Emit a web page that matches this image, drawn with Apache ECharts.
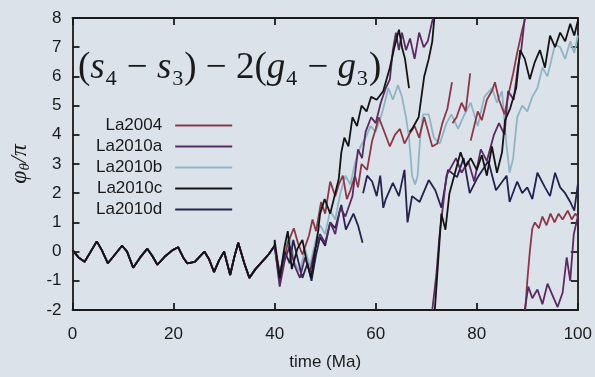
<!DOCTYPE html>
<html>
<head>
<meta charset="utf-8">
<script src="https://cdn.jsdelivr.net/npm/echarts@6/dist/echarts.min.js"></script>
<style>
  html, body { margin: 0; padding: 0; background: #dce2ea; }
  #chart { width: 595px; height: 377px; }
</style>
</head>
<body>
<div id="chart"></div>
<script>
// time (Ma), phi_theta / pi  -- common part, all solutions agree before ~40 Ma
const common = [
  [0, 0.05], [1.2, -0.2], [2.4, -0.35], [3.6, 0], [4.8, 0.35], [5.8, 0.05], [7, -0.4], [8.4, -0.1],
  [9.8, 0.2], [10.8, 0], [12, -0.55], [13.4, -0.2], [14.8, 0.1], [15.8, -0.15], [16.8, -0.45],
  [18.4, -0.15], [19.8, 0.05], [20.9, 0.15], [21.9, -0.2], [22.7, -0.4], [24.2, -0.35], [26.1, 0],
  [27, -0.25], [28, -0.7], [29, -0.3], [30, 0], [31.2, -0.8], [32, -0.2], [32.8, 0.3], [34, -0.4],
  [35, -0.9], [36.2, -0.6], [37.5, -0.35], [38.8, -0.1], [40, 0.2]
]

const la2004 = [
  [41, -0.7], [42, -0.2], [42.6, 0.3], [43.8, 0.8], [44.6, 0.3], [45.5, -0.1], [46.8, 0.55], [47.5, 1.1],
  [48.2, 0.7], [49.2, 1.7], [50, 1.3], [51, 2.4], [52, 1.9], [52.7, 2.3], [53.5, 2.6], [54.3, 1.8],
  [55, 2.1], [55.9, 2.6], [56.5, 2.2], [57.2, 3.0], [58.3, 2.8], [59.3, 3.8], [60, 4.2], [60.6, 4.6],
  [61.5, 4.2], [62.8, 3.6], [63.8, 4.0], [64.8, 4.2], [65.7, 3.7], [66.6, 4.0], [67.7, 4.3], [68.6, 3.9],
  [69.6, 4.6], [70.4, 4.1], [71.2, 3.6], [72.2, 3.7], [73.2, 4.4], [74.2, 4.9], [75.1, 5.8], null,
  [75.2, 4.4], [76, 4.6], [77, 5.1], [77.8, 4.8], [78.7, 6.1], null,
  [78.8, 3.8], [79.5, 4.3], [80.2, 4.8], [81, 4.5], [82, 5.2], [83, 5.5], [83.6, 5.8], [84.4, 5.2],
  [85.5, 4.7], [86.3, 5.4], [87.2, 6.1], [88, 6.8], [89, 7.6], [89.6, 8], null,
  [89.6, -2], [90, -1], [90.5, 0], [91, 0.8], [91.5, 1.0], [92.3, 0.8], [93, 1.2], [93.8, 0.9],
  [94.6, 1.3], [95.4, 1.0], [96.2, 1.3], [97, 1.1], [98, 1.4], [98.8, 1.1], [99.5, 1.3], [100, 1.2]
]

const la2010a = [
  [41, -1.2], [42, -0.3], [43, 0.2], [44, -0.5], [45, -0.9], [46, -0.2], [47, -0.7], [48, 0.1],
  [49, 0.6], [50, 0.3], [51, 1.0], [52, 0.6], [53, 1.5], [54, 1.2], [55, 1.7], [55.4, 1.9],
  [56.5, 3.5], [57.3, 3.2], [58, 4.1], [59.1, 4.6], [60, 4.4], [61, 5.1], [62, 5.6], [62.8, 5.9],
  [63.4, 6.9], [64, 7.5], [64.6, 6.9], [65.2, 7.5], [66, 6.9], [66.8, 7.3], [67.7, 6.6], [68.6, 7.5],
  [69.5, 7.0], [70.3, 7.2], [71.2, 7.9], [71.4, 8], null,
  [71.2, -2], [72, -0.8], [72.6, 0.5], [73.2, 1.4], [74, 2.6], [75.9, 3.2], [77, 2.7], [78.3, 3.1],
  [79.5, 2.4], [80.8, 3.5], [82, 3.1], [83.4, 4.0], [84.4, 4.4], [85.5, 4.0], [86.2, 5.5], [87.3, 5.2],
  [88.2, 6.4], [88.8, 6.9], [89.5, 8], null,
  [89.5, -2], [90.2, -1.2], [91, -1.6], [92, -1.3], [93, -1.8], [94, -1.1], [95, -1.5], [96, -1.9],
  [97, -1.4], [97.8, -0.2], [98.5, -1.0], [99.2, 0.6], [100, 1.2]
]

const la2010b = [
  [41, -0.8], [42, 0.1], [43, 0.5], [44, -0.4], [45, -0.7], [46, 0.1], [47, -0.5], [48, 0.3],
  [49, 0.9], [50, 0.6], [51, 1.4], [52, 1.1], [53, 2.0], [54, 2.6], [55, 2.3], [56, 3.1], [57, 3.6],
  [58, 3.9], [59, 4.3], [60, 4.1], [61, 4.6], [61.5, 4.9], [62.5, 5.6], [63.4, 5.2], [64.4, 5.7],
  [65.2, 5.3], [66, 4.6], [66.6, 3.9], [67.2, 2.6], [67.8, 2.3], [68.3, 2.6], [68.8, 3.9], [69.4, 4.7],
  [70.5, 4.7], [71.5, 3.9], [72.7, 3.7], [74, 4.4], [75, 4.7], [76.3, 4.2], [77.3, 4.6], [78.8, 5.1],
  [80.2, 4.3], [81.5, 5.3], [83, 5.6], [84, 5.1], [85, 5.5], [85.8, 3.8], [86.5, 2.7], [87.2, 3.2],
  [88, 4.6], [89, 5.0], [90, 4.8], [91, 5.3], [92, 5.6], [93, 6.3], [94, 6.0], [95.5, 7.1], [96.5, 7.0],
  [97.5, 6.6], [98.5, 7.2], [99.3, 6.8], [100, 7.4]
]

const la2010c = [
  [40, 0.4], [41, -0.9], [42, 0.2], [42.6, 0.7], [43.4, -0.6], [44.5, 0.1], [45.5, 0.4], [46.4, -0.4],
  [47.2, -0.9], [48, 0], [48.6, 0.7], [49, 1.3], [49.9, 1.8], [51, 1.3], [52, 2.0], [52.7, 2.5],
  [53.2, 3.4], [53.8, 3.9], [54.6, 3.6], [55.4, 4.6], [56.3, 4.3], [57.2, 5.0], [58.2, 4.8], [59.1, 5.3],
  [60.2, 5.2], [61.5, 5.5], [62.8, 6.3], [63.7, 7.0], [64.6, 7.6], [65.2, 7.0], [65.8, 6.6], [66.6, 5.6], null,
  [66.7, 4.1], [67.2, 4.2], [68.5, 4.6], [69.6, 6.0], [70.5, 6.6], [71.2, 7.2], [71.6, 8], null,
  [71.7, -2], [72.3, -0.5], [73, 1.3], [73.8, 0.75], [74.6, 2.0], [75.7, 2.7], [76.8, 3.4], [77.8, 2.9],
  [78.8, 3.2], [80, 2.8], [81, 3.3], [82, 2.6], [83, 3.6], [84, 2.7], [85, 3.4], [85.6, 4.5], [86.6, 4.9],
  [87.8, 5.6], [88.6, 6.9], [89.5, 6.6], [90.5, 5.9], [91.5, 6.5], [92.5, 6.9], [93.5, 6.3], [94.5, 7.4],
  [95.5, 7.0], [96.5, 7.5], [97.5, 7.2], [98.5, 7.8], [99.3, 7.4], [100, 7.9]
]

const la2010d = [
  [41, -1.0], [42, 0], [43, -0.4], [43.7, 0.4], [44.5, -0.2], [45.5, -0.9], [46.5, -0.4], [47.3, -1.0],
  [48.2, -0.1], [49, 0.5], [50, 0.2], [51, 1.0], [52, 0.8], [53.2, 1.6], [54.1, 0.75], [55.6, 1.3],
  [56.5, 0.9], [57.4, 0.3], null,
  [57.5, 2.0], [58.3, 2.6], [59.3, 2.4], [60.2, 1.9], [60.9, 2.6], [61.5, 1.5], [62, 1.8], [63.4, 2.35],
  [64.6, 1.9], [65.7, 2.8], [66.3, 1.0], [67.2, 1.9], [68.7, 1.7], [70.5, 2.45], [71.8, 2.1], [73, 1.5],
  [74.3, 2.8], [76.1, 2.55], [77.4, 3.2], [78.6, 2.0], [80.2, 2.55], [82.3, 3.1], [83.8, 2.1], [85.9, 2.6],
  [86.5, 1.7], [88, 2.4], [89, 2.0], [90, 2.2], [91, 1.8], [92, 2.7], [93.5, 2.2], [94.5, 1.9], [95.5, 2.7],
  [96.5, 2.2], [97.5, 2.0], [98.5, 1.7], [99.3, 1.4], [100, 2.3]
]

const names = ['La2004', 'La2010a', 'La2010b', 'La2010c', 'La2010d']
const colors = {
  La2004: '#8a3848',
  La2010a: '#5a2a62',
  La2010b: '#8fb4c4',
  La2010c: '#141414',
  La2010d: '#26224f',
}
const tails = { La2004: la2004, La2010a: la2010a, La2010b: la2010b, La2010c: la2010c, La2010d: la2010d }
// drawing order, back to front
const drawOrder = ['La2010b', 'La2004', 'La2010d', 'La2010a', 'La2010c']

const axisText = { color: '#1a1a1a', fontSize: 17, fontFamily: 'Liberation Sans' }
const frameLine = { color: '#1a1a1a', width: 1.8 }

function getSeries() {
  return drawOrder.map((name) => ({
    name: name,
    type: 'line',
    symbol: 'none',
    connectNulls: false,
    data: common.concat(tails[name]),
    lineStyle: { color: colors[name], width: 1.8 },
    itemStyle: { color: colors[name] },
    z: 2,
  }))
}

let myChart = echarts.init(document.getElementById('chart'))
let option = {
  backgroundColor: '#dce2ea',
  animation: false,
  title: {
    text: '({i|s}₄ − {i|s}₃) − 2({i|g}₄ − {i|g}₃)',
    left: 78,
    top: 50,
    padding: 0,
    textStyle: {
      fontFamily: 'Liberation Serif',
      fontSize: 37,
      fontWeight: 'normal',
      color: '#1a1a1a',
      rich: {
        i: { fontFamily: 'Liberation Serif', fontStyle: 'italic', fontSize: 37, color: '#1a1a1a' },
      },
    },
  },
  legend: {
    orient: 'vertical',
    align: 'right',
    left: 96,
    top: 115,
    padding: 0,
    icon: 'rect',
    itemWidth: 57,
    itemHeight: 2,
    itemGap: 0,
    data: names,
    textStyle: {
      color: '#1a1a1a',
      fontSize: 17,
      lineHeight: 21,
      fontFamily: 'Liberation Sans',
      padding: [0, 8, 0, 0],
    },
  },
  grid: { left: 68, right: 12, top: 18, bottom: 67 },
  xAxis: [
    {
      type: 'value',
      min: 0,
      max: 100,
      interval: 20,
      name: 'time (Ma)',
      nameLocation: 'middle',
      nameGap: 44,
      nameTextStyle: axisText,
      axisLine: { onZero: false, lineStyle: frameLine },
      axisTick: { inside: true, length: 7, lineStyle: frameLine },
      axisLabel: Object.assign({ margin: 16 }, axisText),
      splitLine: { show: false },
    },
    {
      type: 'value',
      position: 'top',
      min: 0,
      max: 100,
      interval: 20,
      axisLine: { onZero: false, lineStyle: frameLine },
      axisTick: { inside: true, length: 7, lineStyle: frameLine },
      axisLabel: { show: false },
      splitLine: { show: false },
    },
  ],
  yAxis: [
    {
      type: 'value',
      min: -2,
      max: 8,
      interval: 1,
      name: '{a|φ}{b|θ}{a|/π}',
      nameLocation: 'middle',
      nameGap: 40,
      nameRotate: 90,
      nameTextStyle: {
        color: '#1a1a1a',
        rich: {
          a: { fontFamily: 'Liberation Serif', fontStyle: 'italic', fontSize: 24, color: '#1a1a1a' },
          b: { fontFamily: 'Liberation Serif', fontStyle: 'italic', fontSize: 15, color: '#1a1a1a', padding: [10, 0, 0, 0] },
        },
      },
      axisLine: { show: true, onZero: false, lineStyle: frameLine },
      axisTick: { show: true, inside: true, length: 7, lineStyle: frameLine },
      axisLabel: Object.assign({ margin: 11 }, axisText),
      splitLine: { show: false },
    },
    {
      type: 'value',
      position: 'right',
      min: -2,
      max: 8,
      interval: 1,
      axisLine: { show: true, onZero: false, lineStyle: frameLine },
      axisTick: { show: true, inside: true, length: 7, lineStyle: frameLine },
      axisLabel: { show: false },
      splitLine: { show: false },
    },
  ],
  series: getSeries(),
}
myChart.setOption(option)
</script>
</body>
</html>
